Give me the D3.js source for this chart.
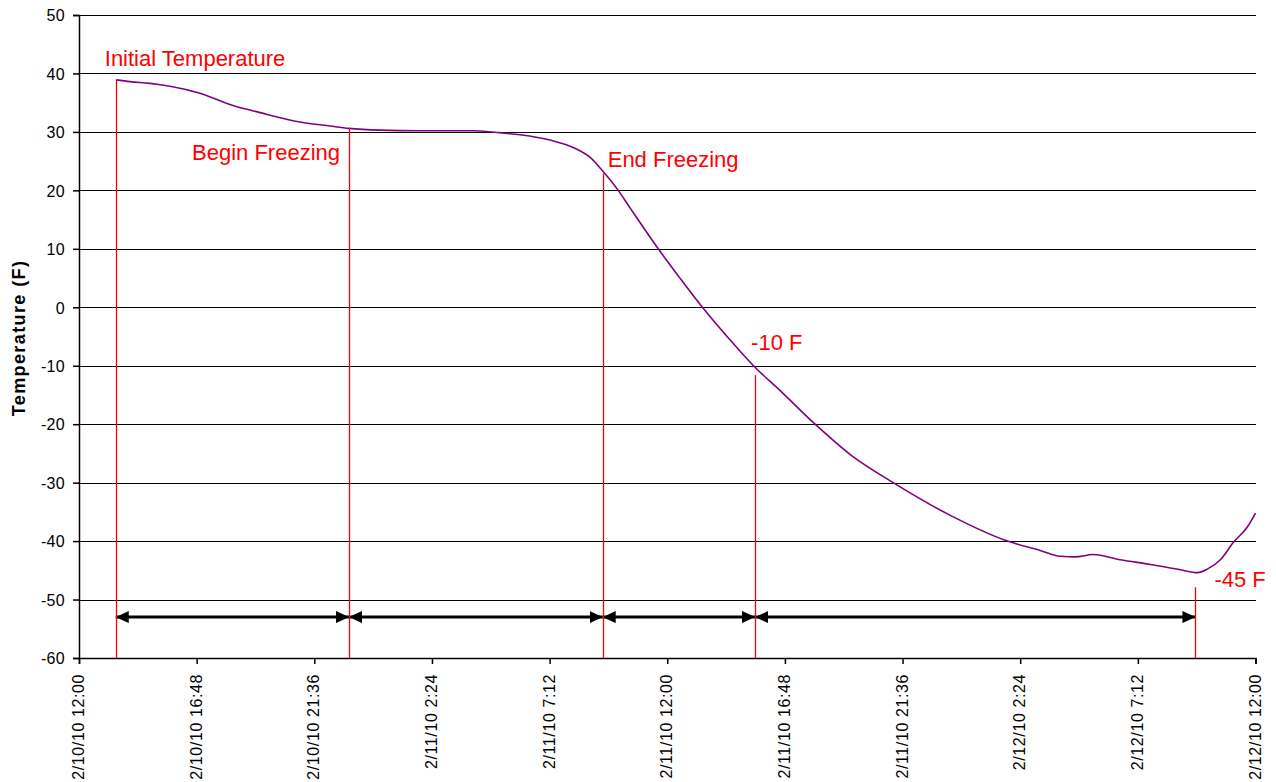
<!DOCTYPE html>
<html>
<head>
<meta charset="utf-8">
<script src="https://cdn.jsdelivr.net/npm/d3@7"></script>
<style>
  html, body { margin: 0; padding: 0; background: #fff; }
  svg { display: block; font-family: "Liberation Sans", Arial, sans-serif; }
</style>
</head>
<body>
<svg id="chart" width="1276" height="782"></svg>
<script>
// ---------------- data ----------------
const times = [
  "2/10/10 13:31","2/10/10 14:05","2/10/10 14:54","2/10/10 15:43","2/10/10 16:56",
  "2/10/10 18:17","2/10/10 19:23","2/10/10 21:01","2/10/10 22:15","2/10/10 23:01",
  "2/11/10 0:17","2/11/10 1:55","2/11/10 4:05","2/11/10 5:04","2/11/10 6:00",
  "2/11/10 7:13","2/11/10 8:14","2/11/10 8:52","2/11/10 9:21","2/11/10 10:00",
  "2/11/10 10:29","2/11/10 11:38","2/11/10 12:32","2/11/10 13:26","2/11/10 14:29",
  "2/11/10 15:31","2/11/10 16:37","2/11/10 18:02","2/11/10 19:28","2/11/10 21:13",
  "2/11/10 23:33","2/12/10 1:53","2/12/10 3:13","2/12/10 4:02","2/12/10 4:39",
  "2/12/10 5:23","2/12/10 6:29","2/12/10 7:43","2/12/10 8:56","2/12/10 9:38",
  "2/12/10 10:02","2/12/10 10:34","2/12/10 11:06","2/12/10 11:40","2/12/10 12:00"
];
const temps = [
  38.9, 38.6, 38.3, 37.8, 36.6,
  34.5, 33.3, 31.7, 31.0, 30.6,
  30.3, 30.2, 30.2, 29.9, 29.5,
  28.6, 27.2, 25.6, 23.4, 20.0,
  17.0, 10.0, 4.9, 0.0, -5.2,
  -10.0, -14.3, -20.0, -25.2, -30.0,
  -35.6, -40.0, -41.6, -42.6, -42.7,
  -42.3, -43.2, -44.0, -44.9, -45.4,
  -44.8, -43.2, -40.2, -37.6, -35.2
];

const markerLabels = ["Initial Temperature", "Begin Freezing", "End Freezing", "-10 F", "-45 F"];
const markerTimes  = ["2/10/10 13:30", "2/10/10 23:01", "2/11/10 9:22", "2/11/10 15:35", "2/12/10 9:33"];
const markerTops   = [38.9, 30.6, 22.9, -11.6, -47.9];
const arrowLevel   = -53;

const yTicks = [50, 40, 30, 20, 10, 0, -10, -20, -30, -40, -50, -60];
const xTickLabels = [
  "2/10/10 12:00","2/10/10 16:48","2/10/10 21:36","2/11/10 2:24","2/11/10 7:12",
  "2/11/10 12:00","2/11/10 16:48","2/11/10 21:36","2/12/10 2:24","2/12/10 7:12","2/12/10 12:00"
];
const yTitle = "Temperature (F)";

// ---------------- layout ----------------
const W = 1276, H = 782;
const plot = { left: 79, right: 1255.5, top: 15, bottom: 658 };
// label offsets relative to marker line x and top y: [dx, dy, anchor]
const labelLayout = [
  [-11, -14, "start"],
  [-9, 32, "end"],
  [5, -6, "start"],
  [-4, -25, "start"],
  [19, 0, "start"]
];

const parse = d3.timeParse("%m/%d/%y %H:%M");
const svg = d3.select("#chart");

const x = d3.scaleTime()
  .domain([parse(xTickLabels[0]), parse(xTickLabels[xTickLabels.length - 1])])
  .range([plot.left, plot.right]);
const y = d3.scaleLinear().domain([-60, 50]).range([plot.bottom, plot.top]);

svg.append("rect").attr("width", W).attr("height", H).attr("fill", "#fff");

// gridlines
svg.append("g").selectAll("line").data(yTicks.filter(v => v !== -60)).join("line")
  .attr("x1", plot.left).attr("x2", plot.right + 0.5)
  .attr("y1", d => Math.round(y(d)) + 0.5).attr("y2", d => Math.round(y(d)) + 0.5)
  .attr("stroke", "#000").attr("stroke-width", 1.2);

// axes
const yAxis = svg.append("g")
  .attr("transform", `translate(${plot.left},0)`)
  .call(d3.axisLeft(y).tickValues(yTicks).tickSize(6).tickPadding(8).tickFormat(d => d));
const xTickDates = xTickLabels.map(parse);
const xAxis = svg.append("g")
  .attr("transform", `translate(0,${plot.bottom})`)
  .call(d3.axisBottom(x).tickValues(xTickDates).tickSize(6).tickFormat((d, i) => xTickLabels[i]));

[yAxis, xAxis].forEach(g => {
  g.select(".domain").attr("stroke", "#000").attr("stroke-width", 1.5);
  g.selectAll(".tick line").attr("stroke", "#000").attr("stroke-width", 1.5);
  g.selectAll("text").attr("fill", "#000").attr("font-size", 16)
    .attr("font-family", "'Liberation Sans', Arial, sans-serif");
});
yAxis.selectAll("text").attr("dy", "0.36em").attr("letter-spacing", "0.3px");
xAxis.selectAll(".tick text")
  .attr("transform", "rotate(-90)")
  .attr("text-anchor", "end")
  .attr("x", -16).attr("y", -1).attr("dy", "0.35em")
  .attr("letter-spacing", "0.6px");

// y axis title
svg.append("text")
  .attr("transform", `translate(25,338) rotate(-90)`)
  .attr("text-anchor", "middle")
  .attr("font-size", 18).attr("font-weight", "bold")
  .attr("letter-spacing", "1.4px")
  .text(yTitle);

// arrow markers
const defs = svg.append("defs");
defs.append("marker").attr("id", "ahEnd").attr("markerUnits", "userSpaceOnUse")
  .attr("viewBox", "0 -6 13 12").attr("refX", 13).attr("refY", 0)
  .attr("markerWidth", 13).attr("markerHeight", 12).attr("orient", "auto")
  .append("path").attr("d", "M0,-6L13,0L0,6Z").attr("fill", "#000");
defs.append("marker").attr("id", "ahStart").attr("markerUnits", "userSpaceOnUse")
  .attr("viewBox", "0 -6 13 12").attr("refX", 13).attr("refY", 0)
  .attr("markerWidth", 13).attr("markerHeight", 12).attr("orient", "auto-start-reverse")
  .append("path").attr("d", "M0,-6L13,0L0,6Z").attr("fill", "#000");

const mDates = markerTimes.map(parse);
const segs = d3.pairs(mDates);
svg.append("g").selectAll("line").data(segs).join("line")
  .attr("x1", d => x(d[0])).attr("x2", d => x(d[1]))
  .attr("y1", y(arrowLevel)).attr("y2", y(arrowLevel))
  .attr("stroke", "#000").attr("stroke-width", 3)
  .attr("marker-start", "url(#ahStart)").attr("marker-end", "url(#ahEnd)");

// red marker lines
svg.append("g").selectAll("line").data(mDates).join("line")
  .attr("x1", d => Math.round(x(d)) + 0.5).attr("x2", d => Math.round(x(d)) + 0.5)
  .attr("y1", (d, i) => y(markerTops[i])).attr("y2", plot.bottom)
  .attr("stroke", "#ff0000").attr("stroke-width", 1.3);

// curve
const pts = times.map((t, i) => [parse(t), temps[i]]);
svg.append("path").datum(pts)
  .attr("fill", "none").attr("stroke", "#800080").attr("stroke-width", 1.6)
  .attr("d", d3.line().x(d => x(d[0])).y(d => y(d[1])).curve(d3.curveMonotoneX));

// marker labels
svg.append("g").selectAll("text").data(markerLabels).join("text")
  .attr("x", (d, i) => x(mDates[i]) + labelLayout[i][0])
  .attr("y", (d, i) => y(markerTops[i]) + labelLayout[i][1])
  .attr("text-anchor", (d, i) => labelLayout[i][2])
  .attr("fill", "#ff0000").attr("font-size", 22)
  .text(d => d);
</script>
</body>
</html>
